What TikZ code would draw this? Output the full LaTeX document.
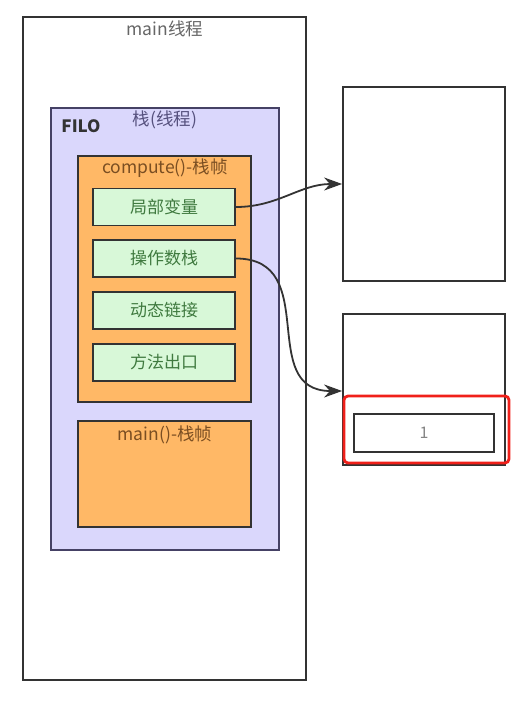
\documentclass[tikz,border=0pt]{standalone}
\usepackage{fontspec}
\setmainfont{Noto Sans CJK SC}
\usetikzlibrary{arrows.meta}
\definecolor{stackfill}{HTML}{DAD7FC}
\definecolor{framefill}{HTML}{FFB866}
\definecolor{slotfill}{HTML}{D8F8D8}
\definecolor{slottext}{HTML}{3F7A3F}
\definecolor{frametext}{HTML}{7A4E22}
\definecolor{stacktext}{HTML}{56517E}
\definecolor{boxline}{HTML}{333333}
\definecolor{mark}{HTML}{F0201A}

\begin{document}
\begin{tikzpicture}[x=1pt,y=-1pt,>={Stealth[length=18pt,width=13pt]},
                line width=1.8pt,
                box/.style={draw=boxline,rectangle,inner sep=0pt},
                slot/.style={box,fill=slotfill,minimum width=142pt,minimum height=37pt,
                    text=slottext,font=\fontsize{17}{19}\selectfont},
                frame/.style={box,fill=framefill,minimum width=173pt},
                title/.style={inner sep=0pt,font=\fontsize{17.5}{19}\selectfont}]
            \useasboundingbox (0,0) rectangle (529,701);
            % main thread
            \node [box,minimum width=283pt,minimum height=663pt] (thread) at (164.5,348.5) {};
            \node [title,text=boxline!75] (threadlbl) at (165,29) {main线程};
            % stack
            \node [box,draw=stacktext!80!black,fill=stackfill,minimum width=228pt,minimum height=442pt] (stack) at (165,329) {};
            \node [title,text=stacktext] (stacklbl) at (165,120) {栈(线程)};
            \node [title,text=boxline,font=\fontsize{17}{19}\selectfont\bfseries] (filo) at (81,126) {FILO};
            % frames
            \node [frame,minimum height=246pt] (compute) at (164.5,279) {};
            \node [title,text=frametext] (computelbl) at (165,168) {compute()-栈帧};
            \node [slot] (local) at (164,207)   {局部变量};
            \node [slot] (operand) at (164,258.5) {操作数栈};
            \node [slot] (link) at (164,310.5)  {动态链接};
            \node [slot] (exit) at (164,362.5)  {方法出口};
            \node [frame,minimum height=106pt] (mainframe) at (164.5,474) {};
            \node [title,text=frametext] (mainlbl) at (165,435) {main()-栈帧};
            % heap side
            \node [box,minimum width=162pt,minimum height=194pt] (obj1) at (424,184) {};
            \node [box,minimum width=162pt,minimum height=151pt] (obj2) at (424,389.5) {};
            \node [box,draw=mark,line width=2.8pt,rounded corners=4pt,minimum width=165pt,minimum height=67pt] (hl) at (426.5,429.5) {};
            \node [box,minimum width=140pt,minimum height=38pt,text=boxline!60,font=\fontsize{16}{18}\selectfont] (val) at (424,433) {1};

            \path [->,every edge/.append style={draw=boxline}]
            (local.east) edge [out=0,in=180]  (obj1.west)
            (operand.east) edge [out=0,in=180,looseness=1.3] ([yshift=-1.5pt]obj2.west);
        \end{tikzpicture}
\end{document}
